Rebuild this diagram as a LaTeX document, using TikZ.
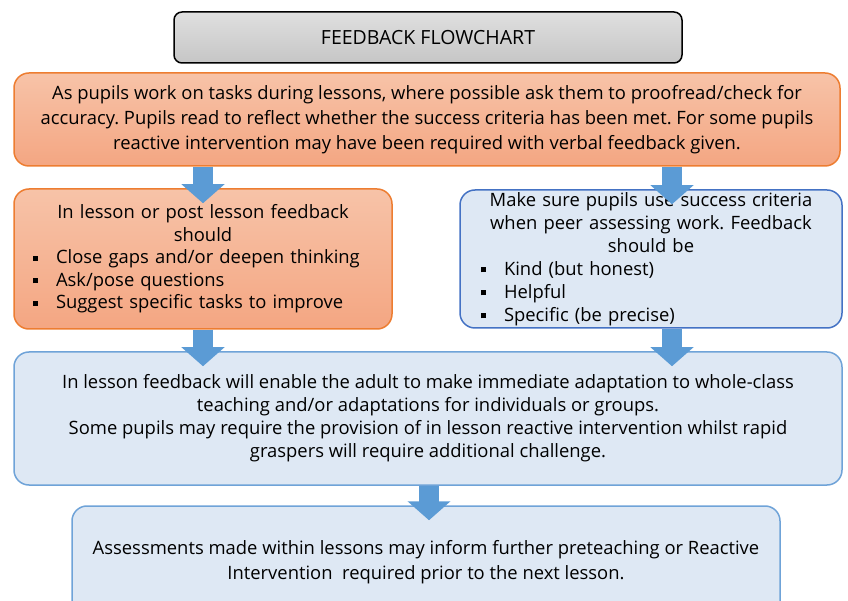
\documentclass[tikz,border=0pt]{standalone}
\usepackage{fontspec}
\setmainfont{Open Sans}
\usepackage{tikz}
\usetikzlibrary{arrows.meta}
\frenchspacing
\definecolor{warmline}{HTML}{ED7D31}
\definecolor{warmtop}{HTML}{F7C3A8}
\definecolor{warmbot}{HTML}{F4A682}
\definecolor{coolfill}{HTML}{DEE8F4}
\definecolor{coolline}{HTML}{6FA3D8}
\definecolor{peerline}{HTML}{4472C4}
\definecolor{arrowblue}{HTML}{5B9BD5}
\newcommand{\pointitem}[1]{\makebox[360pt][l]{\hspace*{10pt}\makebox[23pt][l]{\raisebox{3pt}{\rule{5pt}{5pt}}}#1}}
\tikzset{
    titlebox/.style={
    rectangle,rounded corners=8pt,draw=black,line width=1.5pt,
    top color=gray!25,bottom color=gray!45,
    minimum width=508pt,minimum height=51pt,font=\fontsize{19.5}{22}\selectfont
    },
    warmbox/.style={
    rectangle,rounded corners=15pt,draw=warmline,line width=1.5pt,
    top color=warmtop,bottom color=warmbot,inner sep=0pt,align=center,
    font=\fontsize{18.4}{22.5}\selectfont
    },
    coolbox/.style={
    rectangle,rounded corners=15pt,draw=coolline,line width=1.5pt,
    fill=coolfill,inner sep=0pt,align=center,
    font=\fontsize{18.4}{23}\selectfont
    },
    flowarrow/.style={
    draw=arrowblue,line width=20pt,-{Triangle[length=19pt,width=42pt]},
    shorten >=-15pt
    },
}
\begin{document}
\begin{tikzpicture}[x=1pt,y=1pt]
  \clip (0,0) rectangle (848,600);
  \node[titlebox] (title) at (428,562.5) {FEEDBACK FLOWCHART};
  \node[warmbox,minimum width=826pt,minimum height=93pt,
    font=\fontsize{18.4}{25}\selectfont] (pupils) at (427,480.5)
    {As pupils work on tasks during lessons, where possible ask them to proofread/check for\\
     accuracy. Pupils read to reflect whether the success criteria has been met. For some pupils\\
     reactive intervention may have been required with verbal feedback given.};
  \node[warmbox,minimum width=378pt,minimum height=140pt,text width=360pt] (lesson) at (203,341)
    {In lesson or post lesson feedback\\ should\\
     \pointitem{Close gaps and/or deepen thinking}\\
     \pointitem{Ask/pose questions}\\
     \pointitem{Suggest specific tasks to improve}};
  \node[coolbox,draw=peerline,minimum width=382pt,minimum height=138pt,text width=360pt] (peer) at (651,341)
    {Make sure pupils use success criteria\\ when peer assessing work. Feedback\\ should be\\
     \pointitem{Kind (but honest)}\\
     \pointitem{Helpful}\\
     \pointitem{Specific (be precise)}};
  \node[coolbox,minimum width=828pt,minimum height=133pt] (adapt) at (428,181.5)
    {In lesson feedback will enable the adult to make immediate adaptation to whole-class\\
     teaching and/or adaptations for individuals or groups.\\
     Some pupils may require the provision of in lesson reactive intervention whilst rapid\\
     graspers will require additional challenge.};
  \node[coolbox,minimum width=708pt,minimum height=112pt,
    font=\fontsize{18.4}{25}\selectfont] (assess) at (426,38)
    {Assessments made within lessons may inform further preteaching or Reactive\\
     Intervention\ \ required prior to the next lesson.};

  \path
    (pupils.south -| lesson.north) edge [flowarrow] (lesson.north)
    ([xshift=21pt]peer.north |- pupils.south) edge [flowarrow] ([xshift=21pt]peer.north)
    (lesson.south) edge [flowarrow] (lesson.south |- adapt.north)
    ([xshift=21pt]peer.south) edge [flowarrow] ([xshift=21pt]peer.south |- adapt.north)
    ([xshift=1pt]adapt.south) edge [flowarrow] ([xshift=1pt]adapt.south |- assess.north);
\end{tikzpicture}
\end{document}
